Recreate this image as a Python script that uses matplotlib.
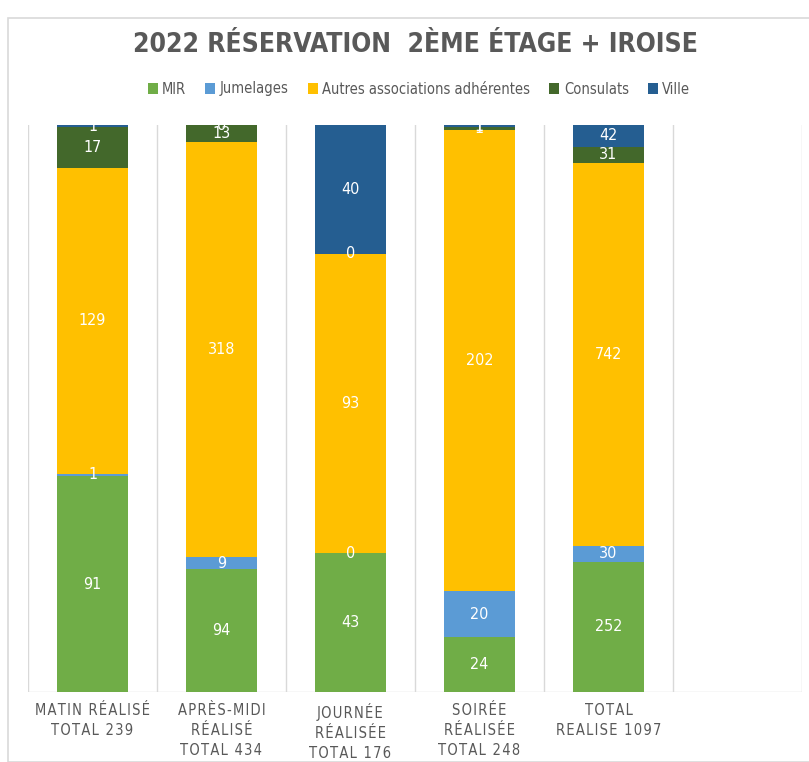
import numpy as np
import matplotlib.pyplot as plt
from matplotlib.patches import Rectangle

plt.rcParams['font.family'] = ['DejaVu Sans']
plt.rcParams['font.stretch'] = 'condensed'

# categories (6th slot is empty in the original chart)
categories = ['MATIN RÉALISÉ\nTOTAL 239', 'APRÈS-MIDI\nRÉALISÉ\nTOTAL 434',
              'JOURNÉE\nRÉALISÉE\nTOTAL 176', 'SOIRÉE\nRÉALISÉE\nTOTAL 248',
              'TOTAL\nREALISE 1097', '']
series_names = ['MIR', 'Jumelages', 'Autres associations adhérentes', 'Consulats', 'Ville']
mir = [91, 94, 43, 24, 252]
jumelages = [1, 9, 0, 20, 30]
autres = [129, 318, 93, 202, 742]
consulats = [17, 13, 0, 1, 31]
ville = [1, 0, 40, 1, 42]
colors = ['#70AD47', '#5B9BD5', '#FFC000', '#43682B', '#255E91']

data = np.array([mir, jumelages, autres, consulats, ville], dtype=float)
totals = data.sum(axis=0)
pct = data / totals


def spaced(s):
    # crude letter spacing with hair spaces
    return '\n'.join('\u200a'.join(line) for line in s.split('\n'))


fig = plt.figure(figsize=(8.09, 7.62), dpi=100)
fig.patches.append(Rectangle((8 / 809, 0), 1, 1 - 18 / 762, transform=fig.transFigure,
                             fill=False, edgecolor='#D9D9D9', linewidth=1.2))
ax = fig.add_axes([28 / 809, 1 - 692 / 762, 774 / 809, 567 / 762])

x = np.arange(len(mir))
bottom = np.zeros(len(mir))
for i, name in enumerate(series_names):
    ax.bar(x, pct[i], bottom=bottom, width=0.556, color=colors[i], label=name, zorder=2)
    for j in range(len(mir)):
        ax.text(x[j], bottom[j] + pct[i][j] / 2, '%d' % data[i][j], ha='center', va='center',
                color='white', fontsize=11.5, zorder=3, clip_on=True)
    bottom += pct[i]

ax.set_xlim(-0.5, 5.5)
ax.set_ylim(0, 1)
for b in np.arange(-0.5, 6, 1):
    ax.axvline(b, color='#D9D9D9', linewidth=1, zorder=1)
ax.axhline(0, color='#D9D9D9', linewidth=1, zorder=1)
for s in ax.spines.values():
    s.set_visible(False)
ax.set_yticks([])
ax.set_xticks(np.arange(6))
ax.set_xticklabels([spaced(c) for c in categories], fontsize=10.5, color='#595959',
                   linespacing=1.4)
ax.tick_params(axis='x', length=0, pad=8)

fig.text(0.513, 1 - 45 / 762, '2022 RÉSERVATION  2ÈME ÉTAGE + IROISE', ha='center', va='center',
         fontsize=19, fontweight='bold', color='#595959')
fig.legend(loc='center', bbox_to_anchor=(0.518, 1 - 89 / 762), ncol=5, frameon=False,
           fontsize=10.5, handlelength=0.7, handleheight=0.7, handletextpad=0.3,
           columnspacing=1.3, labelcolor='#595959')

fig.savefig('out.png', dpi=100)
